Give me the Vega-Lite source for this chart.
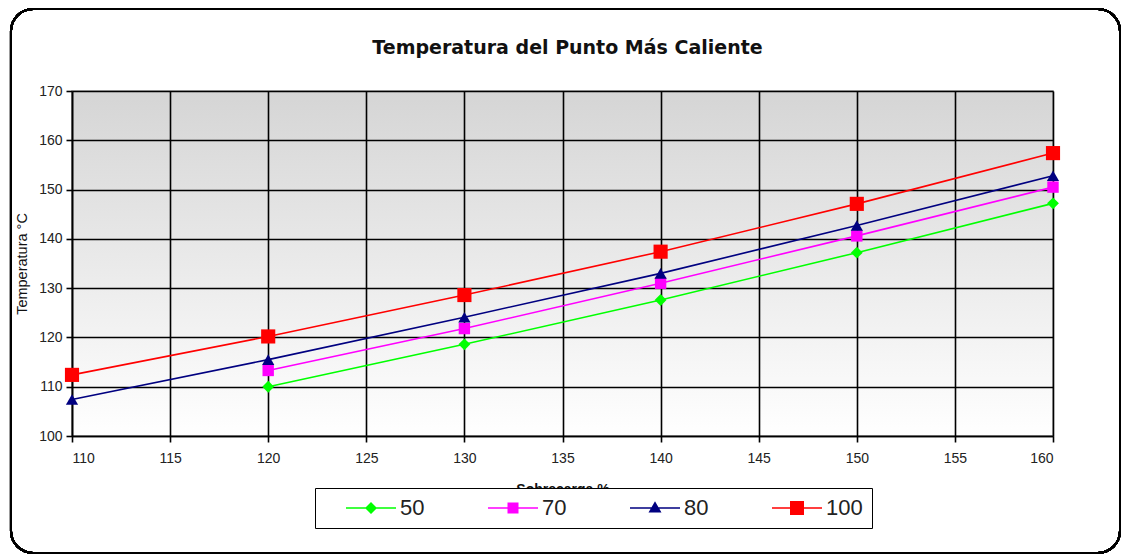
{
  "$schema": "https://vega.github.io/schema/vega-lite/v6.json",
  "autosize": {"type": "none"},
  "width": 981,
  "height": 345,
  "padding": {"left": 72, "top": 91, "right": 68, "bottom": 118},
  "background": "white",
  "title": {
    "text": "Temperatura del Punto Más Caliente",
    "font": "DejaVu Sans",
    "fontSize": 19,
    "fontWeight": "bold",
    "color": "#111",
    "anchor": "middle",
    "baseline": "alphabetic",
    "dx": 5,
    "offset": -65
  },
  "data": {
    "values": [
      {"sobrecarga": 120, "temp": 110.0, "serie": "50"},
      {"sobrecarga": 130, "temp": 118.6, "serie": "50"},
      {"sobrecarga": 140, "temp": 127.6, "serie": "50"},
      {"sobrecarga": 150, "temp": 137.2, "serie": "50"},
      {"sobrecarga": 160, "temp": 147.2, "serie": "50"},
      {"sobrecarga": 120, "temp": 113.3, "serie": "70"},
      {"sobrecarga": 130, "temp": 121.8, "serie": "70"},
      {"sobrecarga": 140, "temp": 131.0, "serie": "70"},
      {"sobrecarga": 150, "temp": 140.6, "serie": "70"},
      {"sobrecarga": 160, "temp": 150.5, "serie": "70"},
      {"sobrecarga": 110, "temp": 107.4, "serie": "80"},
      {"sobrecarga": 120, "temp": 115.5, "serie": "80"},
      {"sobrecarga": 130, "temp": 124.1, "serie": "80"},
      {"sobrecarga": 140, "temp": 133.0, "serie": "80"},
      {"sobrecarga": 150, "temp": 142.7, "serie": "80"},
      {"sobrecarga": 160, "temp": 152.8, "serie": "80"},
      {"sobrecarga": 110, "temp": 112.4, "serie": "100"},
      {"sobrecarga": 120, "temp": 120.2, "serie": "100"},
      {"sobrecarga": 130, "temp": 128.6, "serie": "100"},
      {"sobrecarga": 140, "temp": 137.4, "serie": "100"},
      {"sobrecarga": 150, "temp": 147.1, "serie": "100"},
      {"sobrecarga": 160, "temp": 157.4, "serie": "100"}
    ]
  },
  "encoding": {
    "x": {
      "field": "sobrecarga",
      "type": "quantitative",
      "scale": {"domain": [110, 160], "nice": false, "zero": false},
      "axis": {
        "title": "Sobrecarga %",
        "values": [110, 115, 120, 125, 130, 135, 140, 145, 150, 155, 160],
        "titleFontWeight": "bold",
        "titleFontSize": 14,
        "titlePadding": 17,
        "labelPadding": 9
      }
    },
    "y": {
      "field": "temp",
      "type": "quantitative",
      "scale": {"domain": [100, 170], "nice": false, "zero": false},
      "axis": {
        "title": "Temperatura °C",
        "values": [100, 110, 120, 130, 140, 150, 160, 170],
        "titleFontWeight": "normal",
        "titleFontSize": 14.5,
        "titlePadding": 9,
        "labelPadding": 4
      }
    },
    "color": {
      "field": "serie",
      "type": "nominal",
      "scale": {"domain": ["50", "70", "80", "100"], "range": ["#00ff00", "#ff00ff", "#000080", "#ff0000"]},
      "legend": {
        "title": " ",
        "encode": {
          "symbols": {
            "update": {
              "size": {"value": 2500},
              "strokeWidth": {"value": 0},
              "opacity": {"value": 1}
            }
          }
        }
      }
    }
  },
  "layer": [
    {
      "mark": {"type": "rect", "filled": false, "stroke": "black", "strokeWidth": 2, "cornerRadius": 22, "clip": false},
      "encoding": {
        "x": {"datum": 106.89},
        "x2": {"datum": 163.415},
        "y": {"datum": 186.64},
        "y2": {"datum": 76.26},
        "color": {"value": null}
      }
    },
    {
      "mark": {"type": "line", "strokeWidth": 1.6}
    },
    {
      "transform": [{"filter": "datum.serie == '50'"}],
      "mark": {"type": "point", "filled": true, "opacity": 1, "size": 140, "shape": "diamond"}
    },
    {
      "transform": [{"filter": "datum.serie == '70'"}],
      "mark": {"type": "point", "filled": true, "opacity": 1, "size": 130, "shape": "square"}
    },
    {
      "transform": [{"filter": "datum.serie == '80'"}],
      "mark": {"type": "point", "filled": true, "opacity": 1, "size": 150, "shape": "triangle-up"}
    },
    {
      "transform": [{"filter": "datum.serie == '100'"}],
      "mark": {"type": "point", "filled": true, "opacity": 1, "size": 200, "shape": "square"}
    },
    {
      "mark": {"type": "point", "filled": true, "opacity": 0, "size": 10},
      "encoding": {
        "shape": {
          "field": "serie",
          "type": "nominal",
          "scale": {
            "domain": ["50", "70", "80", "100"],
            "range": [
              "M-1,-0.03H1V0.03H-1ZM0,-0.24L0.24,0L0,0.24L-0.24,0Z",
              "M-1,-0.03H1V0.03H-1ZM-0.22,-0.22H0.22V0.22H-0.22Z",
              "M-1,-0.03H1V0.03H-1ZM0,-0.27L0.26,0.18H-0.26Z",
              "M-1,-0.03H1V0.03H-1ZM-0.28,-0.28H0.28V0.28H-0.28Z"
            ]
          },
          "legend": {
            "title": " ",
            "encode": {
              "symbols": {
                "update": {
                  "size": {"value": 2500},
                  "strokeWidth": {"value": 0},
                  "opacity": {"value": 1}
                }
              }
            }
          }
        }
      }
    }
  ],
  "config": {
    "view": {
      "stroke": "#a0a0a0",
      "strokeWidth": 1.5,
      "fill": {
        "gradient": "linear",
        "x1": 0, "y1": 0, "x2": 0, "y2": 1,
        "stops": [
          {"offset": 0, "color": "#d5d5d5"},
          {"offset": 1, "color": "#ffffff"}
        ]
      }
    },
    "legend": {
      "titleOrient": "left",
      "titleFontSize": 10,
      "titlePadding": 22,
      "orient": "none",
      "legendX": 243,
      "legendY": 397,
      "direction": "horizontal",
      "columns": 4,
      "columnPadding": 63,
      "clipHeight": 22,
      "symbolSize": 2500,
      "symbolOpacity": 1,
      "symbolStrokeWidth": 0,
      "labelFontSize": 22,
      "labelFont": "Liberation Sans",
      "labelColor": "#222",
      "labelOffset": 4,
      "padding": 9,
      "strokeColor": "black",
      "fillColor": "white"
    },
    "axis": {
      "grid": true,
      "gridColor": "#000000",
      "gridWidth": 1.6,
      "gridOpacity": 1,
      "domainColor": "#000000",
      "domainWidth": 1.6,
      "tickColor": "#000000",
      "tickWidth": 1.6,
      "tickSize": 6,
      "labelFont": "Liberation Sans",
      "labelFontSize": 14,
      "labelColor": "#222",
      "titleFont": "Liberation Sans",
      "titleColor": "#111"
    }
  }
}
